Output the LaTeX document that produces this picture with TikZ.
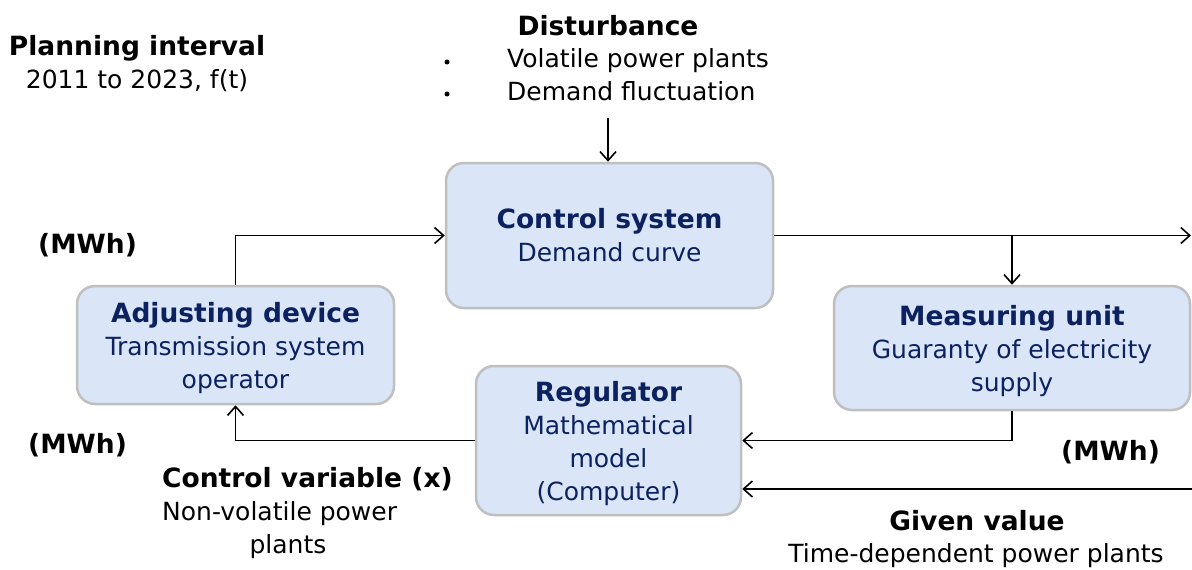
\documentclass[tikz,border=0pt]{standalone}
\usepackage{fontspec}
\setmainfont{DejaVu Sans}
\usetikzlibrary{arrows.meta}
\definecolor{boxfill}{HTML}{DAE6F7}
\definecolor{boxline}{HTML}{BFBFBF}
\definecolor{navy}{HTML}{0B2160}
\newcommand\hd[1]{{\fontsize{26.5}{33}\selectfont\bfseries #1}}
\newcommand\tstrut{\rule{0pt}{26pt}}
\tikzset{
  blk/.style={draw=boxline, line width=2.5pt, fill=boxfill, rounded corners=18pt,
    text=navy, align=center, inner sep=0pt},
  lbl/.style={inner sep=0pt, text=black},
  conn/.style={line width=1.8pt, -{Straight Barb[length=9pt,width=16pt,line width=1.6pt]}},
  dot/.style={circle, fill=black, inner sep=0pt, minimum size=5pt},
}
\begin{document}
\begin{tikzpicture}[x=1pt, y=-1pt, every node/.style={font=\fontsize{25}{33}\selectfont}]
\useasboundingbox (0,0) rectangle (1192,570);

% boxes
\node[blk, minimum width=327pt, minimum height=145pt] (ctrl) at (609.5,235.5)
  {\hd{Control system}\\Demand curve};
\node[blk, minimum width=317pt, minimum height=118pt] (adj) at (235.5,345)
  {\tstrut\hd{Adjusting device}\\Transmission system\\operator};
\node[blk, minimum width=356pt, minimum height=124pt] (meas) at (1012,348)
  {\tstrut\hd{Measuring unit}\\Guaranty of electricity\\supply};
\node[blk, minimum width=265pt, minimum height=149pt] (reg) at (608.5,440.5)
  {\tstrut\hd{Regulator}\\Mathematical\\model\\(Computer)};

% labels
\node[lbl, anchor=base] (plan) at (137,55) {\hd{Planning interval}};
\node[lbl, anchor=base] (plant) at (137,88) {2011 to 2023, f(t)};
\node[lbl, anchor=base] (dist) at (608,35) {\hd{Disturbance}};
\node[dot] (b1) at (447,62) {};
\node[dot] (b2) at (447,94) {};
\node[lbl, anchor=base west] (vol) at (507,67) {Volatile power plants};
\node[lbl, anchor=base west] (dem) at (507,100) {Demand fluctuation};
\node[lbl, anchor=base west] (mwa) at (38,253) {\hd{(MWh)}};
\node[lbl, anchor=base west] (mwb) at (28,453) {\hd{(MWh)}};
\node[lbl, anchor=base west] (mwc) at (1061,460) {\hd{(MWh)}};
\node[lbl, anchor=base west] (cv) at (162,487) {\hd{Control variable (x)}};
\node[lbl, anchor=base west] (nv) at (162,520) {Non-volatile power};
\node[lbl, anchor=base] (nvp) at (288,553) {plants};
\node[lbl, anchor=base] (gv) at (977,530) {\hd{Given value}};
\node[lbl, anchor=base] (td) at (976,562) {Time-dependent power plants};

% connectors
\coordinate (dstart) at (608,118);
\coordinate (out) at (1191,235.5);
\coordinate (gvin) at (1192,489);
\draw[conn] (dstart) -- (dstart |- ctrl.north);
\draw[conn] (adj.north) |- (ctrl.west);
\draw[conn] (ctrl.east) -- (out);
\draw[conn] (ctrl.east -| meas.north) -- (meas.north);
\draw[conn] (meas.south) |- (reg.east);
\draw[conn] (gvin) -- (gvin -| reg.east);
\draw[conn] (reg.west) -| (adj.south);
\end{tikzpicture}
\end{document}
